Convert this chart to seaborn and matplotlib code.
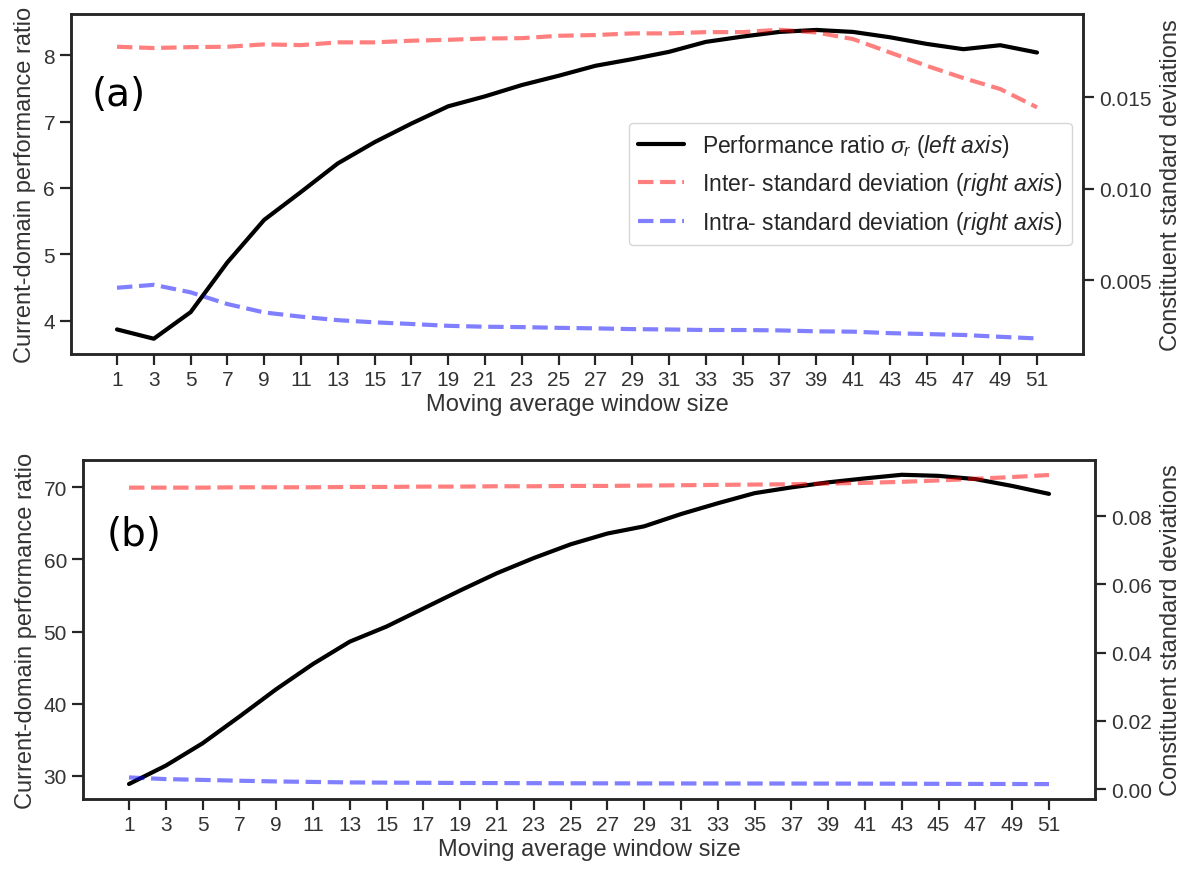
import numpy as np
import pandas as pd
import matplotlib
matplotlib.use("Agg")
import matplotlib.pyplot as plt
import seaborn as sns

window = list(range(1, 52, 2))

ratio_a = [3.87, 3.73, 4.13, 4.88, 5.52, 5.94, 6.37, 6.69, 6.97, 7.23, 7.38, 7.55, 7.69,
           7.84, 7.94, 8.05, 8.20, 8.28, 8.35, 8.38, 8.35, 8.27, 8.17, 8.09, 8.15, 8.04]
inter_a = [0.01775, 0.01768, 0.01773, 0.01775, 0.01788, 0.01784, 0.01799, 0.01799, 0.01808,
           0.01813, 0.01820, 0.01822, 0.01835, 0.01839, 0.01848, 0.01848, 0.01855, 0.01855,
           0.01868, 0.01853, 0.01817, 0.01744, 0.01671, 0.01604, 0.01544, 0.01444]
intra_a = [0.00458, 0.00474, 0.00433, 0.00369, 0.00323, 0.00300, 0.00281, 0.00269, 0.00260,
           0.00250, 0.00245, 0.00243, 0.00239, 0.00236, 0.00232, 0.00230, 0.00227, 0.00227,
           0.00225, 0.00220, 0.00218, 0.00210, 0.00205, 0.00200, 0.00190, 0.00181]

ratio_b = [28.85, 31.4, 34.5, 38.2, 42.0, 45.5, 48.6, 50.7, 53.2, 55.7, 58.1, 60.2, 62.1,
           63.6, 64.6, 66.3, 67.8, 69.2, 70.0, 70.7, 71.25, 71.75, 71.6, 71.15, 70.2, 69.1]
inter_b = [0.0884, 0.0884, 0.0884, 0.0885, 0.0885, 0.0885, 0.0886, 0.0886, 0.0887, 0.0887,
           0.0888, 0.0888, 0.0889, 0.0889, 0.0890, 0.0891, 0.0892, 0.0893, 0.0894, 0.0896,
           0.0898, 0.0901, 0.0905, 0.0910, 0.0915, 0.0921]
intra_b = [0.00343, 0.00293, 0.00270, 0.00245, 0.00225, 0.00210, 0.00196, 0.00190, 0.00185,
           0.00180, 0.00177, 0.00174, 0.00171, 0.00169, 0.00167, 0.00166, 0.00165, 0.00164,
           0.00163, 0.00162, 0.00160, 0.00158, 0.00155, 0.00152, 0.00150, 0.00147]

panel_labels = ["(a)", "(b)"]
legend_labels = [r"Performance ratio $\sigma_r$ ($\it{left\ axis}$)",
                 r"Inter- standard deviation ($\it{right\ axis}$)",
                 r"Intra- standard deviation ($\it{right\ axis}$)"]

sns.set_theme(style="ticks")
plt.rcParams["font.family"] = ["Liberation Sans", "DejaVu Sans"]
plt.rcParams["mathtext.fontset"] = "custom"
plt.rcParams["mathtext.rm"] = "Liberation Sans"
plt.rcParams["mathtext.it"] = "Liberation Sans:italic"
plt.rcParams["axes.edgecolor"] = "0.15"
plt.rcParams["axes.linewidth"] = 1.8

FS = 15
LFS = 17
fig = plt.figure(figsize=(11.89, 8.70), dpi=100)
W, H = 1189, 870
boxes = [(71, 15, 1083, 355), (83, 461, 1095, 800)]
ylims = [((3.5, 8.62), (0.00096, 0.01954)), ((26.77, 73.8), (-0.0029, 0.0965))]
datas = [(ratio_a, inter_a, intra_a), (ratio_b, inter_b, intra_b)]
label_pos = [(0.0205, 0.765), (0.0234, 0.782)]

for i in range(2):
    l, t, r, b = boxes[i]
    ax = fig.add_axes([l / W, 1 - b / H, (r - l) / W, (b - t) / H])
    ratio, inter, intra = datas[i]
    df = pd.DataFrame({"w": window, "ratio": ratio, "inter": inter, "intra": intra})
    sns.lineplot(data=df, x="w", y="ratio", ax=ax, color="black", lw=3,
                 label=legend_labels[0], legend=False)
    ax2 = ax.twinx()
    sns.lineplot(data=df, x="w", y="inter", ax=ax2, color="red", alpha=0.5, lw=3,
                 ls="--", label=legend_labels[1], legend=False)
    sns.lineplot(data=df, x="w", y="intra", ax=ax2, color="blue", alpha=0.5, lw=3,
                 ls="--", label=legend_labels[2], legend=False)
    ax.set_ylim(*ylims[i][0])
    ax2.set_ylim(*ylims[i][1])
    ax.set_xticks(window)
    ax.set_xticklabels([str(w) for w in window])
    ax.set_xlabel("Moving average window size", fontsize=LFS, color="0.2", labelpad=3)
    ax.set_ylabel("Current-domain performance ratio", fontsize=LFS, color="0.2", labelpad=5)
    ax2.set_ylabel("Constituent standard deviations", fontsize=LFS, color="0.2", labelpad=6)
    for a in (ax, ax2):
        a.tick_params(labelsize=FS, length=8, width=1.6, color="0.15", labelcolor="0.2")
        for s in a.spines.values():
            s.set_linewidth(1.8)
    ax.yaxis.set_major_locator(matplotlib.ticker.MultipleLocator(1 if i == 0 else 10))
    if i == 0:
        ax2.yaxis.set_major_locator(matplotlib.ticker.MultipleLocator(0.005))
        ax2.yaxis.set_major_formatter(matplotlib.ticker.FormatStrFormatter("%.3f"))
    else:
        ax2.yaxis.set_major_locator(matplotlib.ticker.MultipleLocator(0.02))
        ax2.yaxis.set_major_formatter(matplotlib.ticker.FormatStrFormatter("%.2f"))
    ax.text(label_pos[i][0], label_pos[i][1], panel_labels[i], transform=ax.transAxes,
            fontsize=28, family="DejaVu Sans", color="black", va="center")
    if i == 0:
        h1, l1 = ax.get_legend_handles_labels()
        h2, l2 = ax2.get_legend_handles_labels()
        ax2.legend(h1 + h2, l1 + l2, loc="center right", fontsize=16.5, frameon=True,
                   borderaxespad=0.5)

fig.savefig("out.png", dpi=100)
